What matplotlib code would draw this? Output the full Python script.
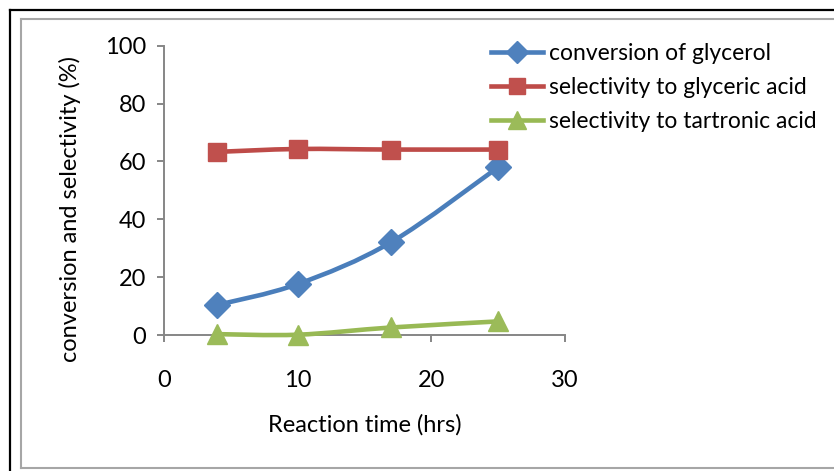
import matplotlib
matplotlib.use("Agg")
import matplotlib.pyplot as plt
from matplotlib.path import Path
from matplotlib.patches import PathPatch
from matplotlib.lines import Line2D
import numpy as np

plt.rcParams['font.family'] = ['Lato', 'DejaVu Sans']

# Data
time_hrs = [4, 10, 17, 25]
conversion = [10.4, 17.6, 32.1, 58.0]
sel_glyceric = [63.3, 64.3, 64.1, 64.1]
sel_tartronic = [0.3, 0.1, 2.6, 4.7]
series_names = ["conversion of glycerol", "selectivity to glyceric acid",
                "selectivity to tartronic acid"]
x_ticks = [0, 10, 20, 30]
y_ticks = [0, 20, 40, 60, 80, 100]

W, H = 834, 471
fig = plt.figure(figsize=(W / 100, H / 100), dpi=100)

def fx(px):
    return px / W

def fy(py):
    return 1 - py / H

# frames
fig.add_artist(Line2D([fx(10), fx(10)], [fy(10), fy(480)], color='black', lw=1.6))
fig.add_artist(Line2D([fx(10), fx(840)], [fy(10), fy(10)], color='black', lw=1.6))
fig.add_artist(Line2D([fx(20.5), fx(20.5)], [fy(19), fy(468)], color='#A6A6A6', lw=1.5))
fig.add_artist(Line2D([fx(20.5), fx(840)], [fy(19), fy(19)], color='#A6A6A6', lw=1.5))
fig.add_artist(Line2D([fx(20.5), fx(840)], [fy(468), fy(468)], color='#A6A6A6', lw=1.5))

ax = fig.add_axes([fx(164), fy(335), fx(565) - fx(164), fy(45.7) - fy(335)])
ax.set_xlim(0, 30)
ax.set_ylim(0, 100)
ax.set_xticks(x_ticks)
ax.set_yticks(y_ticks)
for s in ['top', 'right']:
    ax.spines[s].set_visible(False)
for s in ['left', 'bottom']:
    ax.spines[s].set_color('#868686')
    ax.spines[s].set_linewidth(1.4)
ax.tick_params(axis='both', colors='#868686', length=5, width=1.4, labelsize=17,
               labelcolor='black')
ax.tick_params(axis='y', pad=8)
ax.tick_params(axis='x', pad=20)


def smooth_path(xs, ys):
    pts = np.column_stack([xs, ys]).astype(float)
    n = len(pts)
    verts = [pts[0]]
    codes = [Path.MOVETO]
    for i in range(n - 1):
        p0 = pts[i - 1] if i > 0 else pts[i]
        p1 = pts[i]
        p2 = pts[i + 1]
        p3 = pts[i + 2] if i + 2 < n else pts[i + 1]
        c1 = p1 + (p2 - p0) / 6.0
        c2 = p2 - (p3 - p1) / 6.0
        verts += [c1, c2, p2]
        codes += [Path.CURVE4] * 3
    return Path(verts, codes)

styles = [
    (conversion, '#4A7EBB', '#4F81BD', 'D', 13),
    (sel_glyceric, '#BE4B48', '#C0504D', 's', 13.5),
    (sel_tartronic, '#98B954', '#9BBB59', '^', 15),
]
handles = []
for (vals, lc, mc, mk, ms), name in zip(styles, series_names):
    patch = PathPatch(smooth_path(time_hrs, vals), facecolor='none', edgecolor=lc,
                      lw=3.3, transform=ax.transData, clip_on=False, zorder=3)
    ax.add_patch(patch)
    ax.plot(time_hrs, vals, linestyle='none', marker=mk, markersize=ms,
            color=mc, markeredgecolor=mc, clip_on=False, zorder=4)
    handles.append(Line2D([], [], color=lc, lw=3.3, marker=mk, markersize=ms * 0.9,
                          markerfacecolor=mc, markeredgecolor=mc))

leg = fig.legend(handles, series_names, loc='upper left',
                 bbox_to_anchor=(fx(491), fy(43.5)), frameon=False, fontsize=16.5,
                 handlelength=2.25, handletextpad=0.3, labelspacing=0.56,
                 borderaxespad=0, borderpad=0)

fig.text(fx(365), fy(425), "Reaction time (hrs)", ha='center', va='center', fontsize=17)
fig.text(fx(70), fy(209), "conversion and selectivity (%)", ha='center', va='center',
         rotation=90, fontsize=17)

fig.savefig("out.png", dpi=100)
